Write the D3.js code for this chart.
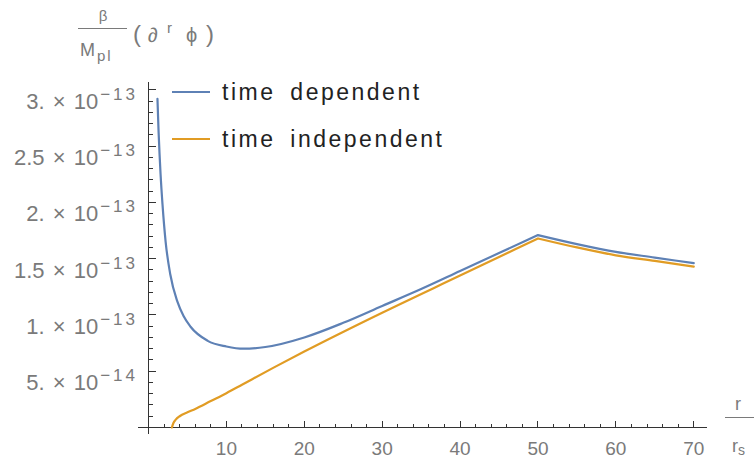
<!DOCTYPE html>
<html>
<head>
<meta charset="utf-8">
<script src="https://cdn.jsdelivr.net/npm/d3@7"></script>
<style>
  html, body { margin: 0; padding: 0; background: #fff; }
  svg { display: block; }
  text { font-family: "Liberation Sans", Arial, sans-serif; }
</style>
</head>
<body>
<svg id="chart" width="754" height="463"></svg>
<script>
// r / r_s and field gradient (units of 1e-13) for each solution
const rDependent = [1.15, 1.3, 1.55, 1.8, 2.2, 2.8, 3.7, 4.5, 5.4, 7.6, 10, 12.2, 15, 20, 25, 30, 35, 40, 45, 50, 55, 60, 65, 70];
const valDependent = [2.92, 2.62, 2.25, 1.98, 1.65, 1.36, 1.12, 0.99, 0.895, 0.77, 0.72, 0.70, 0.715, 0.80, 0.93, 1.08, 1.23, 1.39, 1.55, 1.71, 1.63, 1.56, 1.51, 1.46];

const rIndependent = [3.0, 3.2, 3.5, 4, 5, 6, 8, 10, 12, 16, 20, 30, 40, 45, 50, 55, 60, 65, 70];
const valIndependent = [0, 0.04, 0.07, 0.10, 0.135, 0.165, 0.235, 0.305, 0.38, 0.53, 0.675, 1.02, 1.35, 1.515, 1.68, 1.60, 1.53, 1.48, 1.43];

const seriesNames = ["time dependent", "time independent"];
const seriesColors = ["#5E81B5", "#E19C24"];

const xMajorTicks = [10, 20, 30, 40, 50, 60, 70];
const yMajorTicks = [0.5, 1, 1.5, 2, 2.5, 3];        // units of 1e-13
const yTickMantissa = ["5.", "1.", "1.5", "2.", "2.5", "3."];
const yTickExponent = ["\u221214", "\u221213", "\u221213", "\u221213", "\u221213", "\u221213"];

const svg = d3.select("#chart");

const x = d3.scaleLinear().domain([0, 71.7]).range([148.5, 707]);
const y = d3.scaleLinear().domain([0, 3.07]).range([427.5, 82]);

const axisColor = "#333";
const labelColor = "#7a7a7a";

// tick marks: x major every 10, minor every 2; y major every 0.5, minor every 0.1
const xMinor = d3.range(2, 71, 2).filter(v => v % 10 !== 0);
const yMinor = d3.range(1, 31).map(v => v / 10).filter(v => Math.abs(v * 2 - Math.round(v * 2)) > 1e-6);

const axes = svg.append("g").attr("stroke", axisColor).attr("stroke-width", 1).attr("shape-rendering", "crispEdges");
// x axis line, running slightly left of the y axis
axes.append("line").attr("x1", 138).attr("x2", x.range()[1]).attr("y1", y(0)).attr("y2", y(0));
// y axis line, running slightly below the x axis
axes.append("line").attr("x1", x(0)).attr("x2", x(0)).attr("y1", 434).attr("y2", y.range()[1]);

axes.selectAll(".xminor").data(xMinor).enter().append("line")
  .attr("x1", d => x(d)).attr("x2", d => x(d)).attr("y1", y(0)).attr("y2", y(0) - 4);
axes.selectAll(".xmajor").data(xMajorTicks).enter().append("line")
  .attr("x1", d => x(d)).attr("x2", d => x(d)).attr("y1", y(0)).attr("y2", y(0) - 7);
axes.selectAll(".yminor").data(yMinor).enter().append("line")
  .attr("x1", x(0)).attr("x2", x(0) + 4).attr("y1", d => y(d)).attr("y2", d => y(d));
axes.selectAll(".ymajor").data(yMajorTicks).enter().append("line")
  .attr("x1", x(0)).attr("x2", x(0) + 7).attr("y1", d => y(d)).attr("y2", d => y(d));

// x tick labels
svg.selectAll(".xlab").data(xMajorTicks).enter().append("text")
  .attr("class", "xlab")
  .attr("x", d => x(d)).attr("y", 455)
  .attr("text-anchor", "middle")
  .attr("font-size", 19).attr("fill", labelColor)
  .text(d => d);

// y tick labels in scientific notation
const ylab = svg.selectAll(".ylab").data(yMajorTicks).enter().append("text")
  .attr("class", "ylab")
  .attr("x", 138).attr("y", d => y(d) + 19)
  .attr("text-anchor", "end")
  .attr("font-size", 22).attr("fill", labelColor);
ylab.append("tspan").attr("word-spacing", 2)
  .text((d, i) => yTickMantissa[i] + " \u00d7 10");
ylab.append("tspan").attr("dy", -9).attr("dx", 2).attr("font-size", 17).attr("letter-spacing", 3)
  .text((d, i) => yTickExponent[i]);

// curves, each split at the r = 50 corner so the peak stays sharp
const line = d3.line().x(d => x(d[0])).y(d => y(d[1])).curve(d3.curveMonotoneX);
const dataIndependent = rIndependent.map((r, i) => [r, valIndependent[i]]);
const dataDependent = rDependent.map((r, i) => [r, valDependent[i]]);

function drawSeries(data, color) {
  const left = data.filter(d => d[0] <= 50);
  const right = data.filter(d => d[0] >= 50);
  svg.append("path").attr("d", line(left) + line(right).replace(/^M/, "L"))
    .attr("fill", "none").attr("stroke", color).attr("stroke-width", 2.2)
    .attr("stroke-linejoin", "round").attr("stroke-linecap", "round");
}
drawSeries(dataIndependent, seriesColors[1]);
drawSeries(dataDependent, seriesColors[0]);

// legend
const legend = svg.append("g");
seriesNames.forEach((name, i) => {
  const ly = 92 + i * 47;
  legend.append("line").attr("x1", 172).attr("x2", 210).attr("y1", ly).attr("y2", ly)
    .attr("stroke", seriesColors[i]).attr("stroke-width", 2.2);
  legend.append("text").attr("x", 222).attr("y", ly + 8)
    .attr("font-size", 23).attr("fill", "#222").attr("letter-spacing", 2.5)
    .attr("word-spacing", 6).text(name);
});

// y axis label: beta / M_pl (d^r phi)
const ytitle = svg.append("g").attr("fill", labelColor);
ytitle.append("text").attr("x", 103).attr("y", 21).attr("text-anchor", "middle")
  .attr("font-size", 15).text("\u03b2");
ytitle.append("line").attr("x1", 78).attr("x2", 127).attr("y1", 28.5).attr("y2", 28.5)
  .attr("stroke", labelColor).attr("stroke-width", 1);
const mpl = ytitle.append("text").attr("x", 80).attr("y", 56)
  .attr("font-size", 18).attr("letter-spacing", 2)
  .attr("font-family", "'DejaVu Sans Mono', monospace");
mpl.append("tspan").text("M");
mpl.append("tspan").attr("dy", 5).attr("font-size", 15).text("pl");
ytitle.append("text").attr("x", 133).attr("y", 42).attr("font-size", 24).text("(");
ytitle.append("text").attr("x", 148).attr("y", 42).attr("font-size", 20).text("\u2202");
ytitle.append("text").attr("x", 167).attr("y", 33).attr("font-size", 15).text("r");
ytitle.append("text").attr("x", 186).attr("y", 42).attr("font-size", 20).text("\u03d5");
ytitle.append("text").attr("x", 206).attr("y", 42).attr("font-size", 24).text(")");

// x axis label: r / r_s
const xtitle = svg.append("g").attr("fill", labelColor);
xtitle.append("text").attr("x", 738).attr("y", 410).attr("text-anchor", "middle")
  .attr("font-size", 18).text("r");
xtitle.append("line").attr("x1", 725).attr("x2", 754).attr("y1", 417.5).attr("y2", 417.5)
  .attr("stroke", labelColor).attr("stroke-width", 1);
const rs = xtitle.append("text").attr("x", 732).attr("y", 452).attr("font-size", 18);
rs.append("tspan").text("r");
rs.append("tspan").attr("dy", 3).attr("font-size", 14).text("s");
</script>
</body>
</html>
